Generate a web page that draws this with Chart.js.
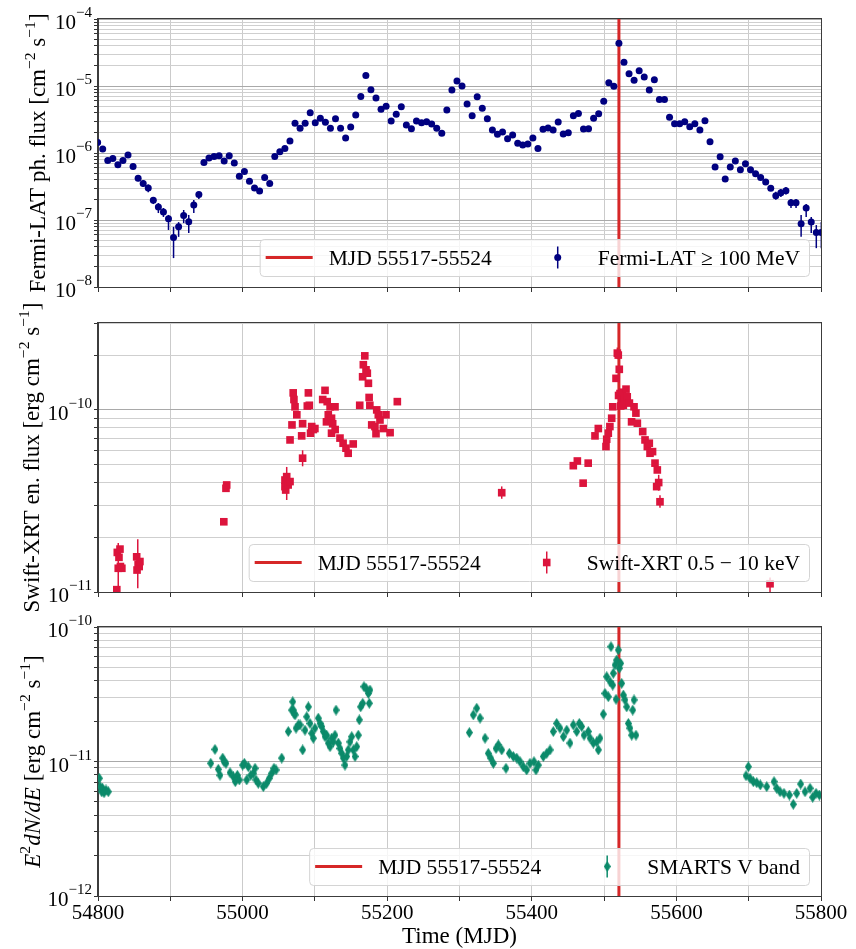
<!DOCTYPE html>
<html>
<head>
<meta charset="utf-8">
<title>Multi-band light curve</title>
<script src="https://cdn.jsdelivr.net/npm/chart.js@4.4.1/dist/chart.umd.min.js"></script>
<style>
  html, body { margin: 0; padding: 0; background: #fff; }
  #wrap { position: relative; width: 856px; height: 949px; }
  #wrap canvas { position: absolute; left: 0; top: 0; }
</style>
</head>
<body>
<div id="wrap">
  <canvas id="fermi" width="856" height="949"></canvas>
  <canvas id="swift" width="856" height="949"></canvas>
  <canvas id="smarts" width="856" height="949"></canvas>
</div>
<script>
const FONT = "'Liberation Serif', 'Times New Roman', serif";

// shared time axis
const mjdRange = [54800, 55800];
const mjdGrid = [54800, 54900, 55000, 55100, 55200, 55300, 55400, 55500, 55600, 55700, 55800];
const mjdLabels = [54800, 55000, 55200, 55400, 55600, 55800];
const flareMjd = 55520.5;
const flareLabel = "MJD 55517-55524";

// y ranges and labelled decades
const fermiRange = [1e-8, 1e-4];
const fermiDecades = [1e-8, 1e-7, 1e-6, 1e-5, 1e-4];
const swiftRange = [1e-11, 3e-10];
const swiftDecades = [1e-11, 1e-10];
const smartsRange = [1e-12, 1e-10];
const smartsDecades = [1e-12, 1e-11, 1e-10];

// Fermi-LAT weekly bins
const fermiMjd = [
  54799.5, 54806.5, 54813.5, 54820.5, 54827.5, 54834.5, 54841.5, 54848.5, 54855.5, 54862.5,
  54869.5, 54876.5, 54883.5, 54890.5, 54897.5, 54904.5, 54911.5, 54918.5, 54925.5, 54932.5,
  54939.5, 54946.5, 54953.5, 54960.5, 54967.5, 54974.5, 54981.5, 54988.5, 54995.5, 55002.5,
  55009.5, 55016.5, 55023.5, 55030.5, 55037.5, 55044.5, 55051.5, 55058.5, 55065.5, 55072.5,
  55079.5, 55086.5, 55093.5, 55100.5, 55107.5, 55114.5, 55121.5, 55128.5, 55135.5, 55142.5,
  55149.5, 55156.5, 55163.5, 55170.5, 55177.5, 55184.5, 55191.5, 55198.5, 55205.5, 55212.5,
  55219.5, 55226.5, 55233.5, 55240.5, 55247.5, 55254.5, 55261.5, 55268.5, 55275.5, 55282.5,
  55289.5, 55296.5, 55303.5, 55310.5, 55317.5, 55324.5, 55331.5, 55338.5, 55345.5, 55352.5,
  55359.5, 55366.5, 55373.5, 55380.5, 55387.5, 55394.5, 55401.5, 55408.5, 55415.5, 55422.5,
  55429.5, 55436.5, 55443.5, 55450.5, 55457.5, 55464.5, 55471.5, 55478.5, 55485.5, 55492.5,
  55499.5, 55506.5, 55513.5, 55520.5, 55527.5, 55534.5, 55541.5, 55548.5, 55555.5, 55562.5,
  55569.5, 55576.5, 55583.5, 55590.5, 55597.5, 55604.5, 55611.5, 55618.5, 55625.5, 55632.5,
  55639.5, 55646.5, 55653.5, 55660.5, 55667.5, 55674.5, 55681.5, 55688.5, 55695.5, 55702.5,
  55709.5, 55716.5, 55723.5, 55730.5, 55737.5, 55744.5, 55751.5, 55758.5, 55765.5, 55772.5,
  55779.5, 55786.5, 55793.5, 55800.5
];
const fermiFlux = [
  1.43e-6, 1.15e-6, 7.7e-7, 8.3e-7, 6.7e-7, 7.7e-7, 9.3e-7, 6.3e-7, 4.2e-7, 3.5e-7,
  3.0e-7, 1.97e-7, 1.56e-7, 1.32e-7, 1.04e-7, 5.5e-8, 7.9e-8, 1.17e-7, 9.4e-8, 1.67e-7,
  2.4e-7, 7.2e-7, 8.4e-7, 8.9e-7, 9.1e-7, 7.6e-7, 9.1e-7, 7.1e-7, 4.5e-7, 5.3e-7,
  3.8e-7, 3.0e-7, 2.7e-7, 4.3e-7, 3.5e-7, 8.9e-7, 1.04e-6, 1.17e-6, 1.51e-6, 2.77e-6,
  2.34e-6, 2.77e-6, 3.99e-6, 2.83e-6, 3.30e-6, 2.87e-6, 2.34e-6, 3.25e-6, 2.34e-6, 1.67e-6,
  2.44e-6, 3.69e-6, 7.0e-6, 1.43e-5, 8.8e-6, 6.6e-6, 4.5e-6, 5.0e-6, 3.0e-6, 3.8e-6,
  4.9e-6, 2.62e-6, 2.31e-6, 3.0e-6, 2.83e-6, 2.93e-6, 2.71e-6, 2.34e-6, 1.97e-6, 4.4e-6,
  8.7e-6, 1.19e-5, 1.0e-5, 5.4e-6, 3.6e-6, 6.9e-6, 4.65e-6, 3.25e-6, 2.2e-6, 1.90e-6,
  2.06e-6, 1.63e-6, 1.86e-6, 1.40e-6, 1.32e-6, 1.36e-6, 1.67e-6, 1.17e-6, 2.26e-6, 2.36e-6,
  2.2e-6, 2.9e-6, 1.92e-6, 2.01e-6, 3.6e-6, 3.9e-6, 2.28e-6, 2.31e-6, 3.3e-6, 3.86e-6,
  5.9e-6, 1.12e-5, 9.9e-6, 4.34e-5, 2.26e-5, 1.53e-5, 1.22e-5, 1.69e-5, 1.36e-5, 8.7e-6,
  1.24e-5, 6.3e-6, 6.3e-6, 3.41e-6, 2.74e-6, 2.74e-6, 2.93e-6, 2.47e-6, 2.74e-6, 2.2e-6,
  3.03e-6, 1.47e-6, 6.2e-7, 8.8e-7, 4.1e-7, 6.2e-7, 7.6e-7, 5.6e-7, 6.9e-7, 5.6e-7,
  4.9e-7, 4.3e-7, 3.7e-7, 2.97e-7, 2.31e-7, 2.55e-7, 2.74e-7, 1.81e-7, 1.81e-7, 8.8e-8,
  1.51e-7, 9.3e-8, 6.5e-8, 6.5e-8
];
// [mjd, low, high] for the error bars that show beyond the markers
const fermiErrors = [
  [54855.5, 3.8e-7, 4.6e-7], [54862.5, 3.1e-7, 3.9e-7], [54869.5, 2.6e-7, 3.4e-7],
  [54876.5, 1.73e-7, 2.2e-7], [54883.5, 1.27e-7, 1.79e-7], [54890.5, 1.11e-7, 1.51e-7],
  [54897.5, 7.1e-8, 1.19e-7], [54904.5, 2.7e-8, 7.9e-8], [54911.5, 5.6e-8, 9.3e-8],
  [54918.5, 9.0e-8, 1.41e-7], [54925.5, 6.4e-8, 1.19e-7], [54932.5, 1.27e-7, 1.99e-7],
  [54939.5, 2.06e-7, 2.6e-7], [55737.5, 2.0e-7, 2.65e-7], [55744.5, 2.2e-7, 2.9e-7],
  [55751.5, 2.4e-7, 3.1e-7], [55758.5, 1.51e-7, 2.06e-7], [55765.5, 1.51e-7, 2.06e-7],
  [55772.5, 5.6e-8, 1.19e-7], [55779.5, 1.11e-7, 1.73e-7], [55786.5, 6.4e-8, 1.11e-7],
  [55793.5, 3.8e-8, 8.4e-8], [55800.5, 3.8e-8, 9.3e-8]
];

// Swift-XRT [mjd, flux]
const swiftPoints = [
  [54826, 1.03e-11], [54826.7, 1.65e-11], [54828, 1.35e-11], [54829, 1.55e-11], [54830.4, 1.72e-11],
  [54831, 1.38e-11], [54833, 1.35e-11], [54853.5, 1.56e-11], [54854, 1.32e-11], [54855.5, 1.42e-11],
  [54857, 1.38e-11], [54858, 1.47e-11],
  [54974, 2.43e-11], [54977, 3.71e-11], [54978, 3.87e-11],
  [55058.6, 4.12e-11], [55058.6, 3.79e-11], [55059.6, 3.63e-11], [55061, 4.30e-11], [55063, 3.87e-11],
  [55065.6, 4.04e-11], [55065.6, 6.84e-11], [55068.3, 8.27e-11], [55070, 1.24e-10], [55071, 1.14e-10],
  [55072.5, 1.04e-10], [55075, 9.4e-11], [55081.7, 7.2e-11], [55083, 8.4e-11], [55083, 5.43e-11],
  [55089.5, 1.05e-10], [55091, 1.24e-10], [55092.3, 1.06e-10], [55094, 7.45e-11], [55095.6, 8.1e-11],
  [55097.8, 7.8e-11], [55100, 7.9e-11], [55110.8, 1.14e-10], [55114, 1.28e-10], [55116, 8.6e-11],
  [55117, 1.11e-10], [55118.5, 9.4e-11], [55121, 1.04e-10], [55123, 9.0e-11], [55123, 7.45e-11],
  [55124.6, 8.4e-11], [55127.8, 1.04e-10], [55128, 7.8e-11], [55134.7, 7.0e-11], [55139, 6.56e-11],
  [55143, 6.16e-11], [55146, 5.78e-11], [55153, 6.5e-11], [55162, 1.06e-10], [55166, 1.52e-10],
  [55167, 1.77e-10], [55169, 1.98e-10], [55170.7, 1.66e-10], [55172.5, 1.59e-10], [55174, 1.40e-10],
  [55175, 1.17e-10], [55176, 1.06e-10], [55178.6, 8.27e-11], [55183, 8.1e-11], [55184.5, 7.4e-11],
  [55185.5, 1.0e-10], [55187.7, 9.4e-11], [55190, 8.8e-11], [55194.6, 7.9e-11], [55198.3, 9.4e-11],
  [55204, 7.5e-11], [55214, 1.11e-10],
  [55358.4, 3.51e-11],
  [55457.4, 4.94e-11], [55463, 5.24e-11], [55471, 3.96e-11], [55478, 5.1e-11], [55487.4, 7.2e-11],
  [55492, 7.9e-11], [55502.6, 6.29e-11], [55503.6, 6.9e-11], [55505.8, 7.45e-11], [55508, 8.1e-11],
  [55510.5, 9.0e-11], [55512, 1.04e-10], [55516.5, 1.49e-10], [55518.3, 2.05e-10], [55519.6, 2.0e-10],
  [55520, 1.2e-10], [55521, 1.67e-10], [55522, 1.23e-10], [55523, 1.05e-10], [55524.3, 1.14e-10],
  [55525, 1.25e-10], [55526.6, 1.06e-10], [55528, 1.15e-10], [55530.3, 1.30e-10], [55532, 1.18e-10],
  [55535, 1.09e-10], [55538, 8.6e-11], [55541.4, 1.04e-10], [55544, 9.6e-11], [55546, 8.45e-11],
  [55553.4, 7.6e-11], [55556.6, 6.84e-11], [55559.8, 6.29e-11], [55562.5, 6.56e-11], [55563.5, 5.78e-11],
  [55567, 5.9e-11], [55570.4, 5.1e-11], [55572.7, 3.79e-11], [55573.6, 4.68e-11], [55575.5, 3.99e-11],
  [55577.3, 3.13e-11],
  [55729.5, 1.11e-11]
];
const swiftErrors = [
  [54828, 1.03e-11, 1.86e-11], [54855, 1.05e-11, 1.95e-11], [55061, 3.2e-11, 4.86e-11],
  [55083, 4.9e-11, 6.0e-11], [55358.4, 3.25e-11, 3.8e-11], [55503.6, 6.2e-11, 7.6e-11],
  [55518.3, 1.9e-10, 2.2e-10], [55575.5, 3.6e-11, 4.4e-11], [55577.3, 2.9e-11, 3.4e-11],
  [55729.5, 1.0e-11, 1.2e-11]
];

// SMARTS V band [mjd, E^2 dN/dE]
const smartsPoints = [
  [54801.8, 7.5e-12], [54802.8, 6.5e-12], [54805.1, 5.96e-12], [54806, 6.35e-12], [54808.3, 5.86e-12],
  [54811, 6.14e-12], [54814.2, 5.96e-12],
  [54955.9, 9.7e-12], [54961.8, 1.23e-11], [54966.4, 8.75e-12], [54968.7, 7.9e-12], [54972.5, 1.06e-11],
  [54974.3, 9.97e-12], [54977, 9.7e-12], [54982.6, 8.26e-12], [54987.1, 7.7e-12], [54989.9, 7.08e-12],
  [54992.7, 7.9e-12], [54995.4, 7.3e-12], [55000.1, 9.4e-12], [55002.4, 9.7e-12], [55005.7, 7.3e-12],
  [55007.9, 9.15e-12], [55011.2, 7.9e-12], [55014.8, 8.17e-12], [55017.2, 8.9e-12], [55018.5, 7.3e-12],
  [55021.7, 6.89e-12], [55028.6, 6.5e-12], [55033.3, 6.89e-12], [55036.9, 7.5e-12], [55040.2, 8.17e-12],
  [55043.4, 8.9e-12], [55046.2, 8.65e-12], [55054.1, 1.06e-11], [55063.2, 1.67e-11], [55067.9, 2.41e-11],
  [55069.3, 2.78e-11], [55070.1, 2.41e-11], [55071.1, 2.28e-11], [55072.5, 2.22e-11], [55073.9, 1.77e-11],
  [55077, 1.87e-11], [55079.4, 1.87e-11], [55083.1, 1.22e-11], [55086.3, 1.71e-11], [55088.7, 2.15e-11],
  [55090.9, 2.55e-11], [55093.2, 1.92e-11], [55095.6, 1.62e-11], [55097.8, 1.49e-11], [55100.1, 1.77e-11],
  [55104.7, 2.1e-11], [55107.1, 1.92e-11], [55109.4, 1.82e-11], [55111.6, 1.67e-11], [55114, 1.53e-11],
  [55116.3, 1.57e-11], [55118.5, 1.37e-11], [55120.9, 1.29e-11], [55123.2, 1.49e-11], [55125.4, 1.40e-11],
  [55127.8, 1.57e-11], [55129.2, 2.41e-11], [55132.4, 1.37e-11], [55134.7, 1.25e-11], [55137.1, 1.15e-11],
  [55139.3, 1.06e-11], [55141.6, 9.4e-12], [55144, 1.09e-11], [55146.2, 1.22e-11], [55148.5, 1.40e-11],
  [55150.9, 1.53e-11], [55153.1, 1.22e-11], [55155.5, 1.09e-11], [55157.8, 1.29e-11], [55160, 1.57e-11],
  [55161.4, 2.04e-11], [55163.3, 2.55e-11], [55166.1, 2.71e-11], [55167.9, 3.6e-11], [55170.7, 3.5e-11],
  [55173.9, 3.21e-11], [55175.2, 2.71e-11], [55176.2, 3.4e-11],
  [55313.6, 1.64e-11], [55319.1, 2.22e-11], [55323.8, 2.49e-11], [55328.4, 2.1e-11], [55335.3, 1.49e-11],
  [55339.8, 1.15e-11], [55343.2, 1.06e-11], [55346.8, 9.7e-12], [55350.5, 1.25e-11], [55353.7, 1.33e-11],
  [55358.4, 1.22e-11], [55364.3, 8.9e-12], [55368.9, 1.15e-11], [55374.4, 1.09e-11], [55379.1, 1.06e-11],
  [55383.7, 9.97e-12], [55388.2, 9.15e-12], [55392.9, 8.65e-12], [55397.5, 9.7e-12], [55403, 9.97e-12],
  [55405.8, 8.65e-12], [55409, 9.4e-12], [55415.9, 1.09e-11], [55420.6, 1.15e-11], [55425.2, 1.22e-11],
  [55429.7, 1.67e-11], [55434.4, 1.92e-11], [55439, 1.77e-11], [55443.6, 1.53e-11], [55448.3, 1.71e-11],
  [55452.8, 1.37e-11], [55457.4, 1.87e-11], [55462.1, 1.67e-11], [55465.7, 1.92e-11], [55469, 1.82e-11],
  [55472.2, 1.57e-11], [55478.1, 1.67e-11], [55480.5, 1.49e-11], [55485.1, 1.37e-11], [55489.8, 1.40e-11],
  [55492, 1.22e-11], [55494.3, 1.49e-11], [55498.9, 2.25e-11], [55501.2, 3.21e-11], [55503.6, 4.27e-11],
  [55505.8, 3.03e-11], [55508.2, 3.92e-11], [55509.5, 7.14e-11], [55511.9, 3.7e-11], [55512.7, 4.53e-11],
  [55515.1, 5.22e-11], [55516.5, 2.9e-11], [55517.4, 5.68e-11], [55519.6, 6.75e-11], [55521, 4.93e-11],
  [55522.9, 5.37e-11], [55524.3, 3.81e-11], [55526.6, 3.12e-11], [55528.9, 2.87e-11], [55531.3, 2.55e-11],
  [55533.5, 1.92e-11], [55535.8, 1.77e-11], [55538.2, 1.57e-11], [55539.6, 2.41e-11], [55541.4, 2.87e-11],
  [55544.1, 1.57e-11],
  [55696.3, 7.84e-12], [55699.5, 9.15e-12], [55701.8, 7.5e-12], [55706.4, 7.08e-12], [55711.1, 6.96e-12],
  [55716, 6.7e-12], [55724.9, 6.5e-12], [55735, 7.08e-12], [55738.7, 6.32e-12], [55743.3, 5.96e-12],
  [55748.8, 5.8e-12], [55756.2, 5.63e-12], [55761.7, 4.81e-12], [55766.4, 5.8e-12], [55771.9, 6.8e-12],
  [55777.9, 5.96e-12], [55784.8, 6.32e-12], [55788.5, 5.42e-12], [55793.1, 5.8e-12], [55797.7, 5.63e-12]
];

const fermiColor = "#000080";
const swiftColor = "#dc143c";
const smartsColor = "#0b8a6a";
const flareColor = "#d62728";

// thin diamond marker ("d" in matplotlib)
function thinDiamond(color, w, h) {
  const c = document.createElement("canvas");
  c.width = w; c.height = h;
  const g = c.getContext("2d");
  g.fillStyle = color;
  g.beginPath();
  g.moveTo(w / 2, 0); g.lineTo(w, h / 2); g.lineTo(w / 2, h); g.lineTo(0, h / 2);
  g.closePath(); g.fill();
  return c;
}
const diamond = thinDiamond(smartsColor, 7, 11);

function isDecade(v) {
  const l = Math.log10(v);
  return Math.abs(l - Math.round(l)) < 1e-6;
}

// text with superscripts / italics, drawn left to right from x0 on baseline y0
function richWidth(ctx, segs, size) {
  let w = 0;
  segs.forEach(s => {
    ctx.font = `${s.it ? "italic " : ""}${s.sup ? size * 0.68 : size}px ${FONT}`;
    w += ctx.measureText(s.t).width;
  });
  return w;
}
function drawRich(ctx, segs, size, x0, y0) {
  let x = x0;
  ctx.textAlign = "left";
  ctx.textBaseline = "alphabetic";
  segs.forEach(s => {
    ctx.font = `${s.it ? "italic " : ""}${s.sup ? size * 0.68 : size}px ${FONT}`;
    ctx.fillText(s.t, x, s.sup ? y0 - size * 0.42 : y0);
    x += ctx.measureText(s.t).width;
  });
}

function drawMarker(ctx, kind, color, x, y) {
  ctx.fillStyle = color;
  if (kind === "circle") {
    ctx.beginPath(); ctx.arc(x, y, 3.5, 0, Math.PI * 2); ctx.fill();
  } else if (kind === "square") {
    ctx.fillRect(x - 3.8, y - 3.8, 7.6, 7.6);
  } else {
    ctx.drawImage(diamond, x - diamond.width / 2, y - diamond.height / 2);
  }
}

const panelDecor = {
  id: "panelDecor",
  beforeDatasetsDraw(chart, args, o) {
    const { ctx, chartArea: a, scales: { x, y } } = chart;
    ctx.save();
    ctx.beginPath();
    ctx.rect(a.left, a.top, a.right - a.left, a.bottom - a.top);
    ctx.clip();
    ctx.strokeStyle = o.color;
    ctx.lineWidth = 1.5;
    o.errors.forEach(([m, lo, hi]) => {
      const px = x.getPixelForValue(m);
      ctx.beginPath();
      ctx.moveTo(px, y.getPixelForValue(lo));
      ctx.lineTo(px, y.getPixelForValue(hi));
      ctx.stroke();
    });
    const fx = x.getPixelForValue(flareMjd);
    ctx.strokeStyle = flareColor;
    ctx.lineWidth = 3;
    ctx.beginPath(); ctx.moveTo(fx, a.top); ctx.lineTo(fx, a.bottom); ctx.stroke();
    ctx.restore();
  },
  afterDraw(chart, args, o) {
    const { ctx, chartArea: a, scales: { x, y } } = chart;
    ctx.save();

    // frame
    ctx.strokeStyle = "#3c3c3c";
    ctx.lineWidth = 1;
    ctx.strokeRect(a.left - 0.5, a.top - 0.5, a.right - a.left + 1, a.bottom - a.top + 1);

    // y tick labels 10^n
    ctx.fillStyle = "#000";
    o.decades.forEach(v => {
      const py = y.getPixelForValue(v);
      const sup = "\u2212" + Math.abs(Math.round(Math.log10(v)));
      ctx.font = `21px ${FONT}`;
      const wb = ctx.measureText("10").width;
      ctx.font = `15px ${FONT}`;
      const ws = ctx.measureText(sup).width;
      const right = a.left - 6;
      ctx.textAlign = "left";
      ctx.textBaseline = "alphabetic";
      ctx.font = `21px ${FONT}`;
      ctx.fillText("10", right - ws - wb, py + 10);
      ctx.font = `15px ${FONT}`;
      ctx.fillText(sup, right - ws, py - 2);
    });

    // y title, rotated
    ctx.save();
    ctx.translate(o.titleX, (a.top + a.bottom) / 2);
    ctx.rotate(-Math.PI / 2);
    const tw = richWidth(ctx, o.title, 23);
    drawRich(ctx, o.title, 23, -tw / 2, 0);
    ctx.restore();

    // x tick labels and title
    if (o.showX) {
      ctx.font = `21px ${FONT}`;
      ctx.textAlign = "center";
      ctx.textBaseline = "alphabetic";
      mjdLabels.forEach(v => ctx.fillText(String(v), x.getPixelForValue(v), a.bottom + 23));
      ctx.font = `23px ${FONT}`;
      ctx.fillText("Time (MJD)", (a.left + a.right) / 2, a.bottom + 47);
    }

    // legend box
    const fs = 21.5;
    ctx.font = `${fs}px ${FONT}`;
    const w1 = ctx.measureText(flareLabel).width;
    const w2 = ctx.measureText(o.label).width;
    const h = 37;
    const right = a.right - 12, bottom = a.bottom - 11;
    const width = 6 + 47 + 16 + w1 + 66 + 40 + w2 + 9;
    const left = right - width, top = bottom - h;
    ctx.beginPath();
    ctx.roundRect(left + 0.5, top + 0.5, width, h, 4);
    ctx.fillStyle = "rgba(255,255,255,0.8)";
    ctx.fill();
    ctx.strokeStyle = "#d4d4d4";
    ctx.lineWidth = 1;
    ctx.stroke();
    const cy = top + h / 2;
    ctx.strokeStyle = flareColor;
    ctx.lineWidth = 3;
    ctx.beginPath(); ctx.moveTo(left + 6, cy); ctx.lineTo(left + 53, cy); ctx.stroke();
    ctx.fillStyle = "#000";
    ctx.textAlign = "left";
    ctx.textBaseline = "alphabetic";
    ctx.fillText(flareLabel, left + 69, cy + 7);
    const mx = left + 69 + w1 + 66;
    ctx.strokeStyle = o.color;
    ctx.lineWidth = 1.5;
    ctx.beginPath(); ctx.moveTo(mx, cy - 11); ctx.lineTo(mx, cy + 11); ctx.stroke();
    drawMarker(ctx, o.marker, o.color, mx, cy);
    ctx.fillStyle = "#000";
    ctx.font = `${fs}px ${FONT}`;
    ctx.fillText(o.label, mx + 40, cy + 7);

    ctx.restore();
  }
};

const xAxisHeight = 53;

function makePanel(id, cfg) {
  return new Chart(document.getElementById(id), {
    type: "scatter",
    data: {
      datasets: [{
        data: cfg.points,
        pointStyle: cfg.pointStyle,
        pointRadius: cfg.radius,
        pointHoverRadius: cfg.radius,
        backgroundColor: cfg.color,
        borderColor: cfg.color,
        borderWidth: 0
      }]
    },
    options: {
      responsive: false,
      animation: false,
      events: [],
      layout: {
        padding: { left: 0, right: 35, top: cfg.top, bottom: 949 - cfg.bottom - xAxisHeight }
      },
      plugins: {
        legend: { display: false },
        tooltip: { enabled: false },
        panelDecor: cfg.decor
      },
      scales: {
        x: {
          type: "linear",
          min: mjdRange[0],
          max: mjdRange[1],
          afterBuildTicks: s => { s.ticks = mjdGrid.map(v => ({ value: v })); },
          afterFit: s => { s.height = xAxisHeight; },
          ticks: { display: false },
          grid: { color: "#cbcbcb", tickColor: "#333", tickLength: 5, drawTicks: true },
          border: { color: "#3c3c3c" }
        },
        y: {
          type: "logarithmic",
          min: cfg.range[0],
          max: cfg.range[1],
          afterBuildTicks: s => {
            const ticks = [];
            for (let e = Math.round(Math.log10(cfg.range[0])); e <= Math.round(Math.log10(cfg.range[1])); e++) {
              for (let m = 1; m <= 9; m++) {
                const v = m * Math.pow(10, e);
                if (v >= cfg.range[0] * 0.999 && v <= cfg.range[1] * 1.001) ticks.push({ value: v });
              }
            }
            s.ticks = ticks;
          },
          afterFit: s => { s.width = 98; },
          ticks: { display: false },
          grid: {
            color: c => (c.tick && isDecade(c.tick.value)) ? "#a9a9a9" : "#cfcfcf",
            tickColor: "#333",
            tickLength: 4
          },
          border: { color: "#3c3c3c" }
        }
      }
    },
    plugins: [panelDecor]
  });
}

makePanel("fermi", {
  points: fermiMjd.map((m, i) => ({ x: m, y: fermiFlux[i] })),
  pointStyle: "circle", radius: 3.5, color: fermiColor,
  top: 19, bottom: 287, range: fermiRange,
  decor: {
    color: fermiColor, errors: fermiErrors, decades: fermiDecades, marker: "circle",
    label: "Fermi-LAT \u2265 100 MeV", titleX: 45, showX: false,
    title: [{ t: "Fermi-LAT ph. flux [cm" }, { t: "\u22122", sup: true }, { t: " s" }, { t: "\u22121", sup: true }, { t: "]" }]
  }
});

makePanel("swift", {
  points: swiftPoints.map(([m, f]) => ({ x: m, y: f })),
  pointStyle: "rect", radius: 5.4, color: swiftColor,
  top: 323, bottom: 592, range: swiftRange,
  decor: {
    color: swiftColor, errors: swiftErrors, decades: swiftDecades, marker: "square",
    label: "Swift-XRT 0.5 \u2212 10 keV", titleX: 39, showX: false,
    title: [{ t: "Swift-XRT en. flux [erg cm" }, { t: "\u22122", sup: true }, { t: " s" }, { t: "\u22121", sup: true }, { t: "]" }]
  }
});

makePanel("smarts", {
  points: smartsPoints.map(([m, f]) => ({ x: m, y: f })),
  pointStyle: diamond, radius: 4, color: smartsColor,
  top: 627, bottom: 896, range: smartsRange,
  decor: {
    color: smartsColor, errors: [], decades: smartsDecades, marker: "diamond",
    label: "SMARTS V band", titleX: 39.5, showX: true,
    title: [{ t: "E", it: true }, { t: "2", sup: true }, { t: "dN/dE", it: true }, { t: " [erg cm" }, { t: "\u22122", sup: true }, { t: " s" }, { t: "\u22121", sup: true }, { t: "]" }]
  }
});
</script>
</body>
</html>
